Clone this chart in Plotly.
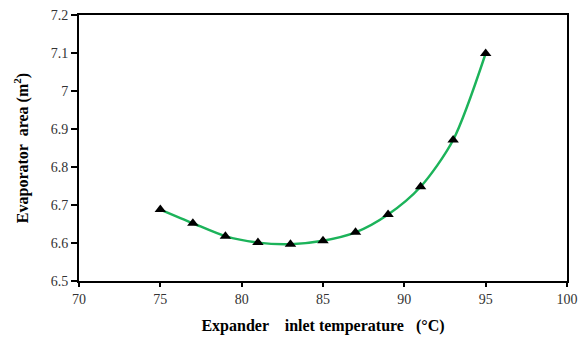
import plotly.graph_objects as go

temperature = [75, 77, 79, 81, 83, 85, 87, 89, 91, 93, 95]
evap_area = [6.688, 6.652, 6.618, 6.601, 6.597, 6.606, 6.628, 6.675, 6.748, 6.871, 7.099]

x_ticks = [70, 75, 80, 85, 90, 95, 100]
y_ticks = [6.5, 6.6, 6.7, 6.8, 6.9, 7.0, 7.1, 7.2]
y_ticklabels = ["6.5", "6.6", "6.7", "6.8", "6.9", "7", "7.1", "7.2"]

fig = go.Figure()
fig.add_trace(go.Scatter(
    x=temperature, y=evap_area, mode="lines+markers",
    line=dict(color="#1cb35a", width=2.5, shape="spline", smoothing=0.8),
    marker=dict(symbol="triangle-up", size=10, color="black"),
    showlegend=False,
))

font_family = "Liberation Serif"
fig.update_layout(
    template="none",
    width=579, height=338,
    margin=dict(l=79, r=12, t=15, b=57),
    paper_bgcolor="white", plot_bgcolor="white",
    font=dict(family=font_family, size=14, color="#222"),
    xaxis=dict(
        automargin=False,
        range=[70, 100], tickvals=x_ticks, showgrid=False, zeroline=False,
        showline=True, linecolor="black", linewidth=2, mirror=True,
        ticks="outside", ticklen=4, tickcolor="black", tickwidth=1.5,
        title=dict(text="<b>Expander    inlet temperature   (°C)</b>",
                   font=dict(family=font_family, size=16, color="black"), standoff=14),
        tickfont=dict(family=font_family, size=14, color="#333"),
    ),
    yaxis=dict(
        automargin=False,
        range=[6.5, 7.2], tickvals=y_ticks, ticktext=y_ticklabels,
        showgrid=False, zeroline=False,
        showline=True, linecolor="black", linewidth=2, mirror=True,
        ticks="outside", ticklen=6, tickcolor="black", tickwidth=1.5,
        title=dict(text="<b>Evaporator  area (m<sup>2</sup>)</b>",
                   font=dict(family=font_family, size=16, color="black"), standoff=18),
        tickfont=dict(family=font_family, size=14, color="#333"),
    ),
)

fig.write_html("out.html")
